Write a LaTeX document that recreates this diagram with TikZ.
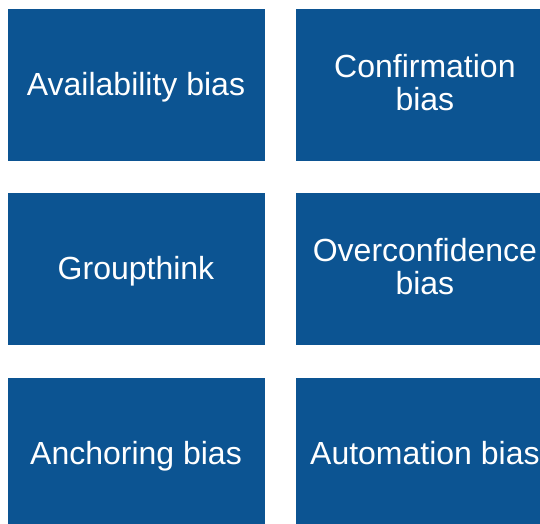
\documentclass[tikz,border=0pt]{standalone}
\usepackage{fontspec}
\setmainfont{Liberation Sans}
\usepackage{tikz}
\usetikzlibrary{positioning}
\definecolor{biasblue}{RGB}{12,84,146}
\newcommand{\biasstrut}{\rule[-5.9pt]{0pt}{33pt}}

\begin{document}
\begin{tikzpicture}[x=1pt,y=-1pt,
	bias/.style={rectangle,fill=biasblue,text=white,align=center,inner sep=0pt,
		minimum width=257pt,minimum height=152pt,
		font=\fontsize{32}{33}\selectfont,
		execute at begin node=\biasstrut,execute at end node=\biasstrut},
	node distance=32pt and 31.5pt]
\useasboundingbox (0,0) rectangle (540,523);
\clip (0,0) rectangle (540,523);
\node [bias] (avail) at (136,85) {Availability bias};
\node [bias,right=of avail] (confirm) {Confirmation\\bias};
\node [bias,below=of avail] (group) {Groupthink};
\node [bias,right=of group] (over) {Overconfidence\\bias};
\node [bias,below=of group] (anchor) {Anchoring bias};
\node [bias,right=of anchor] (auto) {Automation bias};
\end{tikzpicture}
\end{document}
